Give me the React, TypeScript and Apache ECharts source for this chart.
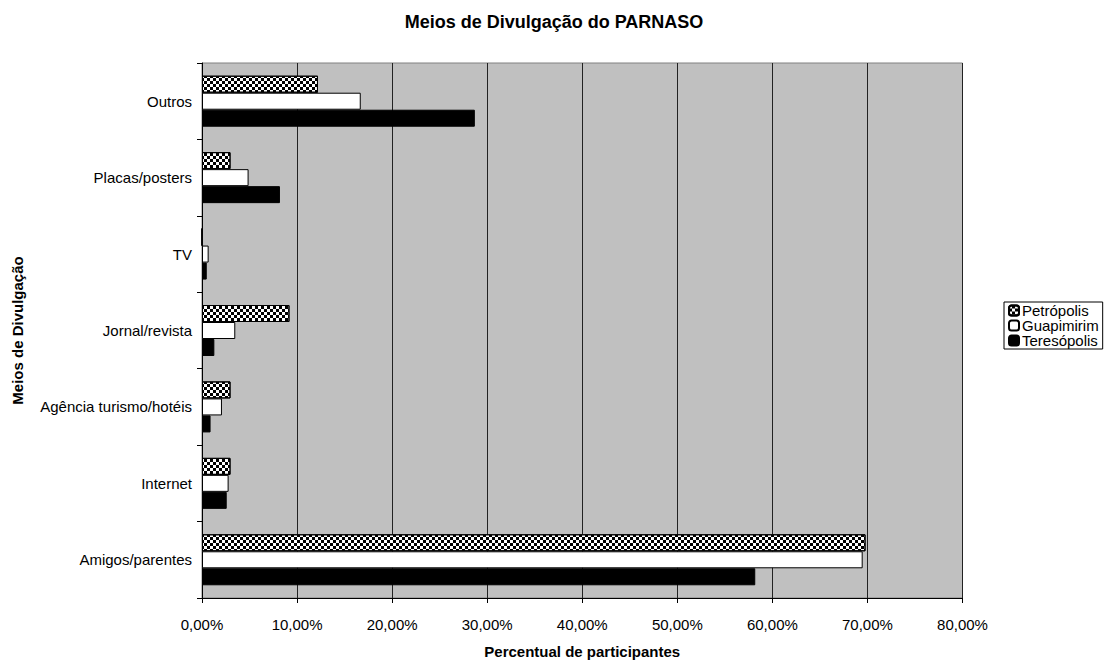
import React, { useEffect, useRef } from "react";
import * as echarts from "echarts";

const categories = [
  "Amigos/parentes",
  "Internet",
  "Agência turismo/hotéis",
  "Jornal/revista",
  "TV",
  "Placas/posters",
  "Outros",
];
const petropolis = [69.8, 3.0, 3.0, 9.2, 0, 3.0, 12.2];
const guapimirim = [69.5, 2.8, 2.1, 3.5, 0.7, 4.9, 16.7];
const teresopolis = [58.2, 2.6, 0.9, 1.3, 0.5, 8.2, 28.7];
const legendNames = ["Petrópolis", "Guapimirim", "Teresópolis"];

const FONT = "'Liberation Sans', Arial, sans-serif";
const FS = 15;

export default function App() {
  const ref = useRef<HTMLDivElement>(null);
  useEffect(() => {
    if (!ref.current) return;
    const chart = echarts.init(ref.current, null, { renderer: "svg" });
    const checker = {
      symbol: "rect",
      symbolSize: 1,
      color: "#000",
      backgroundColor: "#fff",
      dashArrayX: [
        [3, 3],
        [0, 3, 3, 0],
      ],
      dashArrayY: [3, 0],
      rotation: 0,
    };
    chart.setOption({
      animation: false,
      textStyle: { fontFamily: FONT },
      title: {
        text: "Meios de Divulgação do PARNASO",
        left: "center",
        top: 8,
        textStyle: { fontFamily: FONT, fontSize: 18, fontWeight: "bold", color: "#000" },
      },
      legend: {
        orient: "vertical",
        left: 1004,
        top: 302,
        data: legendNames,
        itemWidth: 10,
        itemHeight: 10,
        itemGap: 0,
        padding: [1, 4, 1, 4],
        borderColor: "#000",
        borderWidth: 1,
        backgroundColor: "#fff",
        textStyle: {
          fontFamily: FONT,
          fontSize: FS,
          lineHeight: 15,
          color: "#000",
          padding: [0, 0, 0, -2],
        },
      },
      grid: {
        left: 202,
        right: 145.5,
        top: 63,
        bottom: 56.5,
        show: true,
        backgroundColor: "#c0c0c0",
        borderColor: "#808080",
        borderWidth: 1,
      },
      xAxis: {
        type: "value",
        min: 0,
        max: 80,
        interval: 10,
        name: "Percentual de participantes",
        nameLocation: "middle",
        nameGap: 46,
        nameTextStyle: { fontFamily: FONT, fontSize: FS, fontWeight: "bold", color: "#000" },
        axisLine: { show: true, lineStyle: { color: "#000", width: 1 } },
        axisTick: { show: true, length: 5, lineStyle: { color: "#000" } },
        axisLabel: {
          color: "#000",
          fontFamily: FONT,
          fontSize: FS,
          margin: 19,
          formatter: (v: number) => v.toFixed(2).replace(".", ",") + "%",
        },
        splitLine: { show: true, lineStyle: { color: "#222", width: 1 } },
      },
      yAxis: {
        type: "category",
        data: categories,
        name: "Meios de Divulgação",
        nameLocation: "middle",
        nameGap: 177,
        nameTextStyle: { fontFamily: FONT, fontSize: FS, fontWeight: "bold", color: "#000" },
        axisLine: { show: true, lineStyle: { color: "#000", width: 1 } },
        axisTick: { show: true, length: 5, lineStyle: { color: "#000" } },
        axisLabel: { color: "#000", fontFamily: FONT, fontSize: FS, margin: 10 },
        splitLine: { show: false },
      },
      series: [
        {
          name: "Petrópolis",
          type: "bar",
          data: petropolis,
          barWidth: 17,
          barGap: "0%",
          itemStyle: { color: "#fff", borderColor: "#000", borderWidth: 1, decal: checker },
        },
        {
          name: "Guapimirim",
          type: "bar",
          data: guapimirim,
          barWidth: 17,
          barGap: "0%",
          itemStyle: { color: "#fff", borderColor: "#000", borderWidth: 1 },
        },
        {
          name: "Teresópolis",
          type: "bar",
          data: teresopolis,
          barWidth: 17,
          barGap: "0%",
          itemStyle: { color: "#000", borderColor: "#000", borderWidth: 1 },
        },
      ],
    });
    return () => chart.dispose();
  }, []);
  return <div ref={ref} style={{ width: 1108, height: 664, position: "absolute", left: 0, top: 0 }} />;
}
